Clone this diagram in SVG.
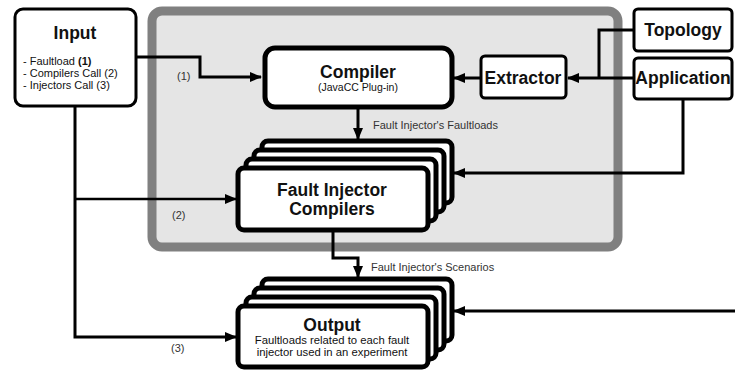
<svg xmlns="http://www.w3.org/2000/svg" width="735" height="372" viewBox="0 0 735 372">
<defs>
<style>
text{font-family:"Liberation Sans",Arial,sans-serif;fill:#111}
.b{font-weight:bold}
.t{font-weight:bold;font-size:17.5px;text-anchor:middle}
.s{font-size:11px}
.box{fill:#fff;stroke:#000}
.thin{stroke-width:3}
.thick{stroke-width:5}
.c{fill:none;stroke:#000;stroke-width:3}
.lbl{font-size:11px;fill:#333}
</style>
<marker id="ah" markerUnits="userSpaceOnUse" markerWidth="12" markerHeight="10" refX="11" refY="5" orient="auto">
<path d="M0,0 L12,5 L0,10 z" fill="#000"/>
</marker>
</defs>
<rect width="735" height="372" fill="#fff"/>
<g id="container">
<rect x="152" y="11" width="466" height="236" rx="10" fill="#e5e5e5" stroke="#808080" stroke-width="9"/>
</g>
<g id="connectors">
<polyline class="c" points="136,57 200,57 200,77 261,77" marker-end="url(#ah)"/>
<polyline class="c" points="75,106 75,337 236,337" marker-end="url(#ah)"/>
<polyline class="c" points="75,199 236,199" marker-end="url(#ah)" style="stroke-width:2.5"/>
<polyline class="c" points="633,30 599,30 599,78"/>
<polyline class="c" points="633,78 568,78" marker-end="url(#ah)"/>
<polyline class="c" points="480,78 454,78" marker-end="url(#ah)"/>
<polyline class="c" points="358,108 358,139" marker-end="url(#ah)"/>
<polyline class="c" points="683,99 683,173 454,173" marker-end="url(#ah)"/>
<polyline class="c" points="333,230 333,258 358,258 358,277" marker-end="url(#ah)"/>
<polyline class="c" points="735,311 454,311" marker-end="url(#ah)"/>
<text class="lbl" x="177" y="80">(1)</text>
<text class="lbl" x="172" y="219">(2)</text>
<text class="lbl" x="171" y="352">(3)</text>
<text class="lbl" x="373" y="129">Fault Injector's Faultloads</text>
<text class="lbl" x="371" y="271">Fault Injector's Scenarios</text>
</g>
<g id="input">
<rect class="box thin" x="15" y="9" width="121" height="97" rx="8"/>
<text class="t" x="75" y="39">Input</text>
<text class="s" x="23" y="65">- Faultload <tspan class="b">(1)</tspan></text>
<text class="s" x="23" y="77">- Compilers Call (2)</text>
<text class="s" x="23" y="89">- Injectors Call (3)</text>
</g>
<g id="compiler">
<rect class="box thick" x="265" y="48" width="187" height="59" rx="10"/>
<text class="t" x="358" y="78">Compiler</text>
<text x="358" y="91" font-size="10.5" text-anchor="middle">(JavaCC Plug-in)</text>
</g>
<g id="extractor">
<rect class="box thin" x="481" y="56" width="85" height="42" rx="4"/>
<text class="t" x="523" y="84">Extractor</text>
</g>
<g id="topology">
<rect class="box thin" x="634" y="9" width="98" height="42" rx="4"/>
<text class="t" x="683" y="36">Topology</text>
</g>
<g id="application">
<rect class="box thin" x="634" y="58" width="98" height="41" rx="4"/>
<text class="t" x="683" y="84">Application</text>
</g>
<g id="fault-injector-compilers">
<rect class="box thick" x="262" y="141" width="190" height="62" rx="6"/>
<rect class="box thick" x="254" y="150" width="190" height="62" rx="6"/>
<rect class="box thick" x="246" y="159" width="190" height="62" rx="6"/>
<rect class="box thick" x="238" y="168" width="190" height="62" rx="6"/>
<text class="t" x="332" y="196">Fault Injector</text>
<text class="t" x="332" y="215">Compilers</text>
</g>
<g id="output">
<rect class="box thick" x="262" y="279" width="190" height="62" rx="6"/>
<rect class="box thick" x="254" y="288" width="190" height="62" rx="6"/>
<rect class="box thick" x="246" y="297" width="190" height="62" rx="6"/>
<rect class="box thick" x="238" y="306" width="190" height="61" rx="6"/>
<text class="t" x="332" y="331">Output</text>
<text x="332" y="344" font-size="11.3" text-anchor="middle">Faultloads related to each fault</text>
<text x="332" y="356" font-size="11.3" text-anchor="middle">injector used in an experiment</text>
</g>
</svg>
